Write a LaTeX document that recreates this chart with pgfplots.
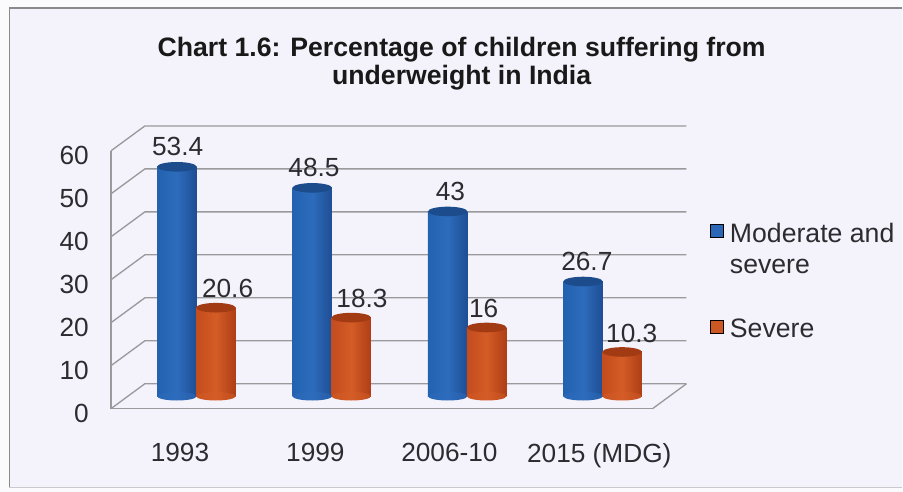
\documentclass[border=0pt]{standalone}
\usepackage{pgfplots}
\usepackage{pgfplotstable}
\usepackage{fontspec}
\setmainfont{Liberation Sans}
\pgfplotsset{compat=1.18}

\definecolor{paper}{HTML}{F4F3FB}
\definecolor{rim}{HTML}{8A8A8A}
\definecolor{gridgray}{HTML}{9A9A9C}
\definecolor{ink}{HTML}{2B2B30}
\definecolor{blueL}{HTML}{2262B0}
\definecolor{blueM}{HTML}{2D6CBC}
\definecolor{blueR}{HTML}{1E4E94}
\definecolor{blueT}{HTML}{1C4C8C}
\definecolor{redL}{HTML}{C44C1E}
\definecolor{redM}{HTML}{D45C26}
\definecolor{redR}{HTML}{AE3E16}
\definecolor{redT}{HTML}{A23A14}

\pgfdeclarehorizontalshading{cylblue}{100bp}{color(0bp)=(blueL); color(50bp)=(blueM); color(100bp)=(blueR)}
\pgfdeclarehorizontalshading{cylred}{100bp}{color(0bp)=(redL); color(50bp)=(redM); color(100bp)=(redR)}

% Elliptical caps and feet of the cylinders
\pgfdeclareplotmark{capblue}{\pgfpathellipse{\pgfpointorigin}{\pgfqpoint{14.8pt}{0pt}}{\pgfqpoint{0pt}{3.6pt}}\pgfsetfillcolor{blueT}\pgfusepathqfill}
\pgfdeclareplotmark{capred}{\pgfpathellipse{\pgfpointorigin}{\pgfqpoint{14.8pt}{0pt}}{\pgfqpoint{0pt}{3.6pt}}\pgfsetfillcolor{redT}\pgfusepathqfill}
\pgfdeclareplotmark{footblue}{\pgfpathellipse{\pgfpointorigin}{\pgfqpoint{14.8pt}{0pt}}{\pgfqpoint{0pt}{3.2pt}}\pgfshadepath{cylblue}{0}\pgfusepath{discard}}
\pgfdeclareplotmark{footred}{\pgfpathellipse{\pgfpointorigin}{\pgfqpoint{14.8pt}{0pt}}{\pgfqpoint{0pt}{3.2pt}}\pgfshadepath{cylred}{0}\pgfusepath{discard}}

% idx value  label-offset-x (pt)
\pgfplotstableread{
idx v    dx
0   53.4 -13.5
1   48.5 -12.75
2   43   -12
3   26.7 -11.25
}\moderate
\pgfplotstableread{
idx v    dx
0   20.6 24
1   18.3 23.25
2   16   13
3   10.3 22.5
}\severe

\pgfplotsset{
  chartframe/.style={
    scale only axis, width=406.5pt, height=193.5pt,
    xmin=-0.5, xmax=3.5, ymin=0, ymax=60,
    clip=false, anchor=south west
  },
  wall/.style={draw=gridgray, line width=1pt, no marks, forget plot}
}

\begin{document}
\begin{tikzpicture}[x=1pt,y=1pt]
% page and panel
\fill[white!60!paper] (0,0) rectangle (677.25,369);
\fill[paper] (7,3) rectangle (677.25,363);
\draw[rim, line width=1pt] (677.25,363) -- (7,363) -- (7,3);
\draw[rim!40!paper, line width=0.8pt] (7,3) -- (677.25,3);

\node[font=\bfseries\fontsize{20}{21}\selectfont, text=black!90, align=center, anchor=center]
  at (346.5,321.25) {Chart 1.6: Percentage of children suffering from\\underweight in India};

% front edges, side wall, back wall gridlines and tick labels
\begin{axis}[chartframe, at={(83.25pt,62.25pt)},
  axis x line=bottom, axis y line=left,
  axis line style={draw=none},
  major tick style={draw=none},
  xtick={0.01,1.01,2,3.107}, xticklabels={1993,1999,2006-10,2015 (MDG)},
  ytick={0,10,...,60},
  /pgf/number format/assume math mode=true,
  tick label style={font=\fontsize{19.7}{23}\selectfont, text=ink},
  xticklabel style={yshift=-20.5pt},
  yticklabel style={xshift=-11pt, yshift=-3.3pt}]
\addplot[wall] coordinates {(-0.5,0) (-0.5,60)};
\addplot[wall] coordinates {(-0.5,0) (3.5,0)};
\addplot[wall] coordinates {(-0.5,0)  (-0.2491,5.81)  (3.7509,5.81)};
\addplot[wall] coordinates {(-0.5,10) (-0.2491,15.81) (3.7509,15.81)};
\addplot[wall] coordinates {(-0.5,20) (-0.2491,25.81) (3.7509,25.81)};
\addplot[wall] coordinates {(-0.5,30) (-0.2491,35.81) (3.7509,35.81)};
\addplot[wall] coordinates {(-0.5,40) (-0.2491,45.81) (3.7509,45.81)};
\addplot[wall] coordinates {(-0.5,50) (-0.2491,55.81) (3.7509,55.81)};
\addplot[wall] coordinates {(-0.5,60) (-0.2491,65.81) (3.7509,65.81)};
\addplot[wall] coordinates {(3.5,0) (3.7509,5.81)};
\end{axis}

% cylinders standing mid-way between front edge and back wall
\begin{axis}[chartframe, at={(96pt,71.6pt)}, hide x axis, hide y axis,
  legend style={at={(433.5pt,136pt)}, anchor=north west, draw=none, fill=none,
    font=\fontsize{20}{23.5}\selectfont, text=ink, row sep=51.5pt,
    cells={anchor=base west}},
  legend cell align=left,
  legend image code/.code={\fill[#1] (-1.5pt,-3.5pt) rectangle (8.25pt,6.25pt);},
  every node near coord/.append style={anchor=center, font=\fontsize{19.7}{23}\selectfont, text=ink}]
\addlegendimage{fill=blueM!85!blueR}
\addlegendentry{\hspace*{3pt}\begin{tabular}[t]{@{}l@{}}Moderate and\\severe\end{tabular}}
\addlegendimage{fill=redM!85!redR}
\addlegendentry{\hspace*{3pt}Severe}

% feet
\addplot[only marks, mark=footblue, forget plot] table[x expr=\thisrow{idx}-0.1384, y expr=0] {\moderate};
% bodies, one plot per bar so that each gets its own cylinder shading
\pgfplotsinvokeforeach{0,1,2,3}{
\addplot[ybar, bar width=29.6pt, bar shift=-14.06pt, draw=none,
  left color=blueL, right color=blueR, middle color=blueM, forget plot,
  restrict x to domain=#1:#1,
  visualization depends on={\thisrow{dx}\as\lblshift},
  nodes near coords, nodes near coords style={xshift=\lblshift pt, yshift=15.25pt},
  point meta=explicit symbolic]
  table[x=idx, y=v, meta=v] {\moderate};
}
\addplot[only marks, mark=capblue, forget plot] table[x expr=\thisrow{idx}-0.1384, y=v] {\moderate};

\addplot[only marks, mark=footred, forget plot] table[x expr=\thisrow{idx}+0.1496, y expr=0] {\severe};
\pgfplotsinvokeforeach{0,1,2,3}{
\addplot[ybar, bar width=29.6pt, bar shift=15.2pt, draw=none,
  left color=redL, right color=redR, middle color=redM, forget plot,
  restrict x to domain=#1:#1,
  visualization depends on={\thisrow{dx}\as\lblshift},
  nodes near coords, nodes near coords style={xshift=\lblshift pt, yshift=14.25pt},
  point meta=explicit symbolic]
  table[x=idx, y=v, meta=v] {\severe};
}
\addplot[only marks, mark=capred, forget plot] table[x expr=\thisrow{idx}+0.1496, y=v] {\severe};
\end{axis}
\end{tikzpicture}
\end{document}
